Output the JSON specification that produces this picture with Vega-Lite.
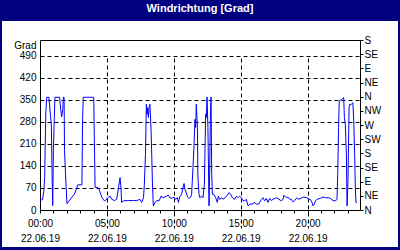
{
  "$schema": "https://vega.github.io/schema/vega-lite/v6.json",
  "width": 396,
  "height": 226,
  "autosize": {"type": "none"},
  "padding": {"left": 2, "top": 21, "right": 2, "bottom": 3},
  "background": "#000080",
  "title": {"text": "Windrichtung [Grad]", "color": "white", "fontSize": 11, "fontWeight": "bold", "font": "Liberation Sans", "anchor": "middle", "frame": "group", "baseline": "middle", "offset": 1.5},
  "config": {
    "view": {"fill": "white", "stroke": null},
    "axis": {"labelFont": "Liberation Sans", "labelFontSize": 10, "labelColor": "black", "domainColor": "black", "tickColor": "black", "gridColor": "black", "gridDash": [4, 3], "gridOpacity": 1, "titleFont": "Liberation Sans", "titleFontSize": 10, "titleFontWeight": "normal", "titleColor": "black"}
  },
  "data": {"values": [
    {"t": "2019-06-22T00:00", "deg": 30}, {"t": "2019-06-22T00:11", "deg": 33}, {"t": "2019-06-22T00:17", "deg": 59}, {"t": "2019-06-22T00:21", "deg": 107},
    {"t": "2019-06-22T00:26", "deg": 308}, {"t": "2019-06-22T00:30", "deg": 358}, {"t": "2019-06-22T00:40", "deg": 358}, {"t": "2019-06-22T00:47", "deg": 300},
    {"t": "2019-06-22T00:51", "deg": 270}, {"t": "2019-06-22T00:54", "deg": 120}, {"t": "2019-06-22T00:57", "deg": 14}, {"t": "2019-06-22T01:00", "deg": 190},
    {"t": "2019-06-22T01:04", "deg": 290}, {"t": "2019-06-22T01:07", "deg": 358}, {"t": "2019-06-22T01:28", "deg": 358}, {"t": "2019-06-22T01:33", "deg": 319},
    {"t": "2019-06-22T01:37", "deg": 296}, {"t": "2019-06-22T01:42", "deg": 319}, {"t": "2019-06-22T01:45", "deg": 358}, {"t": "2019-06-22T01:48", "deg": 358},
    {"t": "2019-06-22T01:50", "deg": 188}, {"t": "2019-06-22T01:57", "deg": 75}, {"t": "2019-06-22T02:01", "deg": 20}, {"t": "2019-06-22T02:07", "deg": 26},
    {"t": "2019-06-22T02:19", "deg": 37}, {"t": "2019-06-22T02:34", "deg": 50}, {"t": "2019-06-22T02:43", "deg": 66}, {"t": "2019-06-22T02:49", "deg": 80},
    {"t": "2019-06-22T03:08", "deg": 80}, {"t": "2019-06-22T03:11", "deg": 290}, {"t": "2019-06-22T03:14", "deg": 358}, {"t": "2019-06-22T04:01", "deg": 358},
    {"t": "2019-06-22T04:04", "deg": 210}, {"t": "2019-06-22T04:07", "deg": 72}, {"t": "2019-06-22T04:19", "deg": 72}, {"t": "2019-06-22T04:28", "deg": 60},
    {"t": "2019-06-22T04:38", "deg": 39}, {"t": "2019-06-22T04:49", "deg": 29}, {"t": "2019-06-22T04:55", "deg": 31}, {"t": "2019-06-22T05:04", "deg": 39},
    {"t": "2019-06-22T05:14", "deg": 44}, {"t": "2019-06-22T05:22", "deg": 34}, {"t": "2019-06-22T05:34", "deg": 30}, {"t": "2019-06-22T05:44", "deg": 34},
    {"t": "2019-06-22T05:52", "deg": 71}, {"t": "2019-06-22T05:59", "deg": 103}, {"t": "2019-06-22T06:03", "deg": 71}, {"t": "2019-06-22T06:06", "deg": 24},
    {"t": "2019-06-22T06:14", "deg": 29}, {"t": "2019-06-22T06:36", "deg": 30}, {"t": "2019-06-22T06:59", "deg": 30}, {"t": "2019-06-22T07:14", "deg": 30},
    {"t": "2019-06-22T07:28", "deg": 34}, {"t": "2019-06-22T07:36", "deg": 24}, {"t": "2019-06-22T07:44", "deg": 39}, {"t": "2019-06-22T07:48", "deg": 82},
    {"t": "2019-06-22T07:53", "deg": 177}, {"t": "2019-06-22T07:57", "deg": 336}, {"t": "2019-06-22T08:00", "deg": 304}, {"t": "2019-06-22T08:03", "deg": 325},
    {"t": "2019-06-22T08:06", "deg": 294}, {"t": "2019-06-22T08:09", "deg": 325}, {"t": "2019-06-22T08:13", "deg": 336}, {"t": "2019-06-22T08:18", "deg": 256},
    {"t": "2019-06-22T08:21", "deg": 177}, {"t": "2019-06-22T08:24", "deg": 92}, {"t": "2019-06-22T08:28", "deg": 13}, {"t": "2019-06-22T08:36", "deg": 24},
    {"t": "2019-06-22T08:43", "deg": 30}, {"t": "2019-06-22T08:54", "deg": 29}, {"t": "2019-06-22T09:03", "deg": 44}, {"t": "2019-06-22T09:13", "deg": 39},
    {"t": "2019-06-22T09:28", "deg": 44}, {"t": "2019-06-22T09:36", "deg": 47}, {"t": "2019-06-22T09:42", "deg": 39}, {"t": "2019-06-22T09:51", "deg": 37},
    {"t": "2019-06-22T10:01", "deg": 41}, {"t": "2019-06-22T10:08", "deg": 34}, {"t": "2019-06-22T10:16", "deg": 39}, {"t": "2019-06-22T10:21", "deg": 24},
    {"t": "2019-06-22T10:26", "deg": 41}, {"t": "2019-06-22T10:35", "deg": 50}, {"t": "2019-06-22T10:41", "deg": 71}, {"t": "2019-06-22T10:46", "deg": 84},
    {"t": "2019-06-22T10:50", "deg": 66}, {"t": "2019-06-22T10:56", "deg": 55}, {"t": "2019-06-22T11:02", "deg": 41}, {"t": "2019-06-22T11:08", "deg": 37},
    {"t": "2019-06-22T11:16", "deg": 41}, {"t": "2019-06-22T11:20", "deg": 50}, {"t": "2019-06-22T11:26", "deg": 135}, {"t": "2019-06-22T11:30", "deg": 193},
    {"t": "2019-06-22T11:35", "deg": 288}, {"t": "2019-06-22T11:38", "deg": 262}, {"t": "2019-06-22T11:41", "deg": 336}, {"t": "2019-06-22T11:46", "deg": 262},
    {"t": "2019-06-22T11:48", "deg": 108}, {"t": "2019-06-22T11:53", "deg": 50}, {"t": "2019-06-22T11:57", "deg": 39}, {"t": "2019-06-22T12:05", "deg": 44},
    {"t": "2019-06-22T12:11", "deg": 39}, {"t": "2019-06-22T12:17", "deg": 82}, {"t": "2019-06-22T12:23", "deg": 304}, {"t": "2019-06-22T12:26", "deg": 294},
    {"t": "2019-06-22T12:29", "deg": 359}, {"t": "2019-06-22T12:33", "deg": 262}, {"t": "2019-06-22T12:38", "deg": 13}, {"t": "2019-06-22T12:41", "deg": 124},
    {"t": "2019-06-22T12:44", "deg": 294}, {"t": "2019-06-22T12:47", "deg": 359}, {"t": "2019-06-22T12:50", "deg": 113}, {"t": "2019-06-22T12:53", "deg": 50},
    {"t": "2019-06-22T13:00", "deg": 50}, {"t": "2019-06-22T13:08", "deg": 39}, {"t": "2019-06-22T13:15", "deg": 24}, {"t": "2019-06-22T13:20", "deg": 44},
    {"t": "2019-06-22T13:26", "deg": 34}, {"t": "2019-06-22T13:35", "deg": 39}, {"t": "2019-06-22T13:41", "deg": 34}, {"t": "2019-06-22T13:50", "deg": 39},
    {"t": "2019-06-22T14:00", "deg": 47}, {"t": "2019-06-22T14:08", "deg": 55}, {"t": "2019-06-22T14:15", "deg": 50}, {"t": "2019-06-22T14:23", "deg": 39},
    {"t": "2019-06-22T14:25", "deg": 37}, {"t": "2019-06-22T14:33", "deg": 34}, {"t": "2019-06-22T14:41", "deg": 44}, {"t": "2019-06-22T14:48", "deg": 39},
    {"t": "2019-06-22T14:55", "deg": 44}, {"t": "2019-06-22T15:03", "deg": 39}, {"t": "2019-06-22T15:10", "deg": 30}, {"t": "2019-06-22T15:18", "deg": 29},
    {"t": "2019-06-22T15:25", "deg": 34}, {"t": "2019-06-22T15:33", "deg": 13}, {"t": "2019-06-22T15:40", "deg": 18}, {"t": "2019-06-22T15:55", "deg": 20},
    {"t": "2019-06-22T16:03", "deg": 24}, {"t": "2019-06-22T16:10", "deg": 18}, {"t": "2019-06-22T16:22", "deg": 20}, {"t": "2019-06-22T16:33", "deg": 34},
    {"t": "2019-06-22T16:40", "deg": 39}, {"t": "2019-06-22T16:47", "deg": 29}, {"t": "2019-06-22T16:55", "deg": 37}, {"t": "2019-06-22T17:02", "deg": 24},
    {"t": "2019-06-22T17:10", "deg": 37}, {"t": "2019-06-22T17:18", "deg": 30}, {"t": "2019-06-22T17:25", "deg": 34}, {"t": "2019-06-22T17:40", "deg": 39},
    {"t": "2019-06-22T17:52", "deg": 34}, {"t": "2019-06-22T18:02", "deg": 29}, {"t": "2019-06-22T18:10", "deg": 34}, {"t": "2019-06-22T18:14", "deg": 47},
    {"t": "2019-06-22T18:25", "deg": 39}, {"t": "2019-06-22T18:32", "deg": 41}, {"t": "2019-06-22T18:40", "deg": 34}, {"t": "2019-06-22T18:47", "deg": 34},
    {"t": "2019-06-22T18:54", "deg": 26}, {"t": "2019-06-22T19:02", "deg": 30}, {"t": "2019-06-22T19:12", "deg": 39}, {"t": "2019-06-22T19:20", "deg": 34},
    {"t": "2019-06-22T19:35", "deg": 39}, {"t": "2019-06-22T19:42", "deg": 41}, {"t": "2019-06-22T19:57", "deg": 39}, {"t": "2019-06-22T20:05", "deg": 34},
    {"t": "2019-06-22T20:12", "deg": 34}, {"t": "2019-06-22T20:20", "deg": 24}, {"t": "2019-06-22T20:24", "deg": 13}, {"t": "2019-06-22T20:30", "deg": 18},
    {"t": "2019-06-22T20:35", "deg": 29}, {"t": "2019-06-22T20:42", "deg": 34}, {"t": "2019-06-22T20:57", "deg": 37}, {"t": "2019-06-22T21:09", "deg": 41},
    {"t": "2019-06-22T21:20", "deg": 39}, {"t": "2019-06-22T21:34", "deg": 39}, {"t": "2019-06-22T21:42", "deg": 37}, {"t": "2019-06-22T21:54", "deg": 30},
    {"t": "2019-06-22T22:05", "deg": 29}, {"t": "2019-06-22T22:12", "deg": 34}, {"t": "2019-06-22T22:15", "deg": 113}, {"t": "2019-06-22T22:19", "deg": 262},
    {"t": "2019-06-22T22:22", "deg": 347}, {"t": "2019-06-22T22:34", "deg": 352}, {"t": "2019-06-22T22:42", "deg": 357}, {"t": "2019-06-22T22:45", "deg": 294},
    {"t": "2019-06-22T22:49", "deg": 273}, {"t": "2019-06-22T22:54", "deg": 177}, {"t": "2019-06-22T22:57", "deg": 13}, {"t": "2019-06-22T23:01", "deg": 92},
    {"t": "2019-06-22T23:06", "deg": 325}, {"t": "2019-06-22T23:09", "deg": 336}, {"t": "2019-06-22T23:14", "deg": 334}, {"t": "2019-06-22T23:19", "deg": 338},
    {"t": "2019-06-22T23:23", "deg": 341}, {"t": "2019-06-22T23:27", "deg": 283}, {"t": "2019-06-22T23:31", "deg": 177}, {"t": "2019-06-22T23:34", "deg": 71},
    {"t": "2019-06-22T23:37", "deg": 24}, {"t": "2019-06-22T23:41", "deg": 24}
  ]},
  "encoding": {
    "x": {
      "field": "t", "type": "temporal",
      "scale": {"domain": [{"year": 2019, "month": 6, "date": 22, "hours": 0}, {"year": 2019, "month": 6, "date": 22, "hours": 23, "minutes": 55}], "range": [38, 358]},
      "axis": {
        "orient": "bottom", "offset": -37, "title": null,
        "values": [
          {"year": 2019, "month": 6, "date": 22, "hours": 0}, {"year": 2019, "month": 6, "date": 22, "hours": 1}, {"year": 2019, "month": 6, "date": 22, "hours": 2}, {"year": 2019, "month": 6, "date": 22, "hours": 3},
          {"year": 2019, "month": 6, "date": 22, "hours": 4}, {"year": 2019, "month": 6, "date": 22, "hours": 5}, {"year": 2019, "month": 6, "date": 22, "hours": 6}, {"year": 2019, "month": 6, "date": 22, "hours": 7},
          {"year": 2019, "month": 6, "date": 22, "hours": 8}, {"year": 2019, "month": 6, "date": 22, "hours": 9}, {"year": 2019, "month": 6, "date": 22, "hours": 10}, {"year": 2019, "month": 6, "date": 22, "hours": 11},
          {"year": 2019, "month": 6, "date": 22, "hours": 12}, {"year": 2019, "month": 6, "date": 22, "hours": 13}, {"year": 2019, "month": 6, "date": 22, "hours": 14}, {"year": 2019, "month": 6, "date": 22, "hours": 15},
          {"year": 2019, "month": 6, "date": 22, "hours": 16}, {"year": 2019, "month": 6, "date": 22, "hours": 17}, {"year": 2019, "month": 6, "date": 22, "hours": 18}, {"year": 2019, "month": 6, "date": 22, "hours": 19},
          {"year": 2019, "month": 6, "date": 22, "hours": 20}, {"year": 2019, "month": 6, "date": 22, "hours": 21}, {"year": 2019, "month": 6, "date": 22, "hours": 22}, {"year": 2019, "month": 6, "date": 22, "hours": 23}
        ],
        "tickSize": 3, "labelPadding": 5, "labelLineHeight": 15, "labelOverlap": false, "labelFlush": false, "labelBound": false,
        "labelExpr": "hours(datum.value) % 5 == 0 ? [timeFormat(datum.value, '%H:%M'), timeFormat(datum.value, '%d.%m.%y')] : ''",
        "grid": true,
        "gridOpacity": {"condition": {"test": "hours(datum.value) % 5 == 0 && hours(datum.value) > 0", "value": 1}, "value": 0}
      }
    }
  },
  "layer": [
    {
      "mark": {"type": "line", "color": "#0000ff", "strokeWidth": 1},
      "encoding": {
        "y": {
          "field": "deg", "type": "quantitative",
          "scale": {"domain": [0, 540], "range": [189, 19], "nice": false, "zero": false},
          "axis": {
            "orient": "left", "offset": -38, "values": [0, 70, 140, 210, 280, 350, 420, 490],
            "ticks": false, "labelPadding": 4, "grid": true,
            "title": "Grad", "titleAngle": 0, "titleAlign": "right", "titleBaseline": "middle", "titleX": -4, "titleY": 24
          }
        }
      }
    },
    {
      "mark": {"type": "line", "opacity": 0},
      "encoding": {
        "y": {
          "field": "deg", "type": "quantitative",
          "axis": {
            "orient": "right", "offset": -38, "values": [0, 45, 90, 135, 180, 225, 270, 315, 360, 405, 450, 495, 540],
            "tickSize": 3, "labelPadding": 1, "title": null,
            "labelExpr": "['N','NE','E','SE','S','SW','W','NW'][round(datum.value / 45) % 8]",
            "grid": true, "gridDash": [],
            "gridOpacity": {"condition": {"test": "datum.value == 540", "value": 1}, "value": 0}
          }
        }
      }
    }
  ],
  "resolve": {"axis": {"y": "independent"}}
}
